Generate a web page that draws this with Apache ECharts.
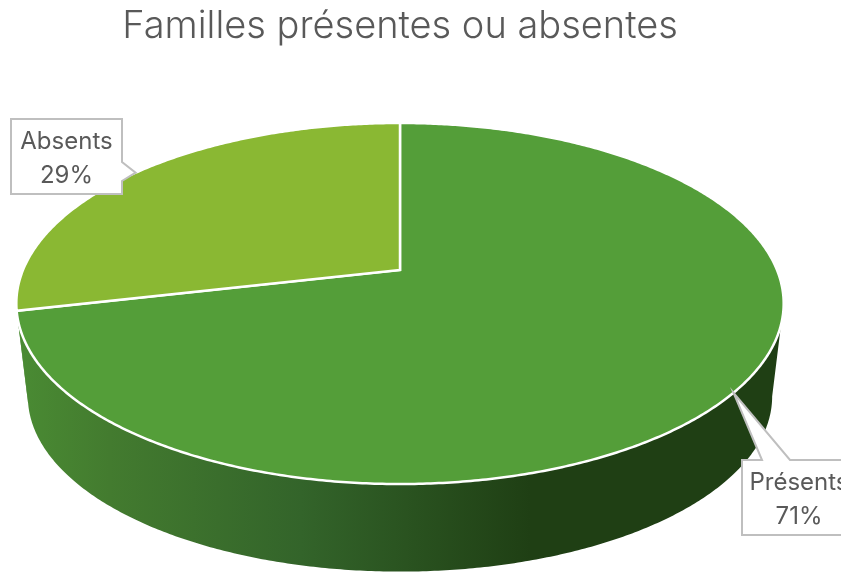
<!DOCTYPE html>
<html>
<head>
<meta charset="utf-8">
<style>
  html, body { margin: 0; padding: 0; background: #fff; overflow: hidden; }
  #chart { width: 841px; height: 572px; }
</style>
<script src="https://cdn.jsdelivr.net/npm/echarts@6/dist/echarts.min.js"></script>
</head>
<body>
<div id="chart"></div>
<script>
// data
const categories = ['Présents', 'Absents'];
const values = [71.4, 28.6];
const titleText = 'Familles présentes ou absentes';

// colours
const topColors = ['#549E39', '#8AB833'];
const textColor = '#595959';
const boxColor = '#BFBFBF';
const sideStops = [
  { offset: 0, color: '#4A8B33' },
  { offset: 0.12, color: '#437B2F' },
  { offset: 0.37, color: '#33642A' },
  { offset: 0.67, color: '#1F3F14' },
  { offset: 1, color: '#1F3F14' }
];

// tilted disc: a unit circle seen in perspective
const cx = 400, cy = 270;
const spanX = 377, spanY = 124.2, persp = -0.1856;
// the lower rim is the upper rim shrunk and moved down
const rimScale = 0.97, rimTop = 303, rimBottom = 396;
// part of the rim facing the viewer (degrees clockwise from the top)
const frontFrom = 100.7, frontTo = 259.3;

// callout boxes, the pointer base sits on one edge
const labelBoxes = [
  { x: 742, y: 460, w: 114, h: 75, edge: 'top', from: 762, to: 790 },
  { x: 11, y: 119, w: 111, h: 75, edge: 'right', from: 162, to: 181 }
];

const total = values.reduce((a, b) => a + b, 0);

function startAngle(i) {
  let sum = 0;
  for (let k = 0; k < i; k++) sum += values[k];
  return sum / total * 360;
}

function project(deg) {
  const t = deg * Math.PI / 180;
  const u = Math.sin(t), v = -Math.cos(t);
  const w = 1 + persp * v;
  return [cx + spanX * u / w, (cy + spanY * v) / w];
}

function lower(p) {
  return [cx + rimScale * (p[0] - cx), rimBottom + rimScale * (p[1] - rimTop)];
}

function arc(from, to) {
  const pts = [];
  const n = Math.max(2, Math.ceil((to - from) * 2));
  for (let i = 0; i <= n; i++) pts.push(project(from + (to - from) * i / n));
  return pts;
}

function renderSide(params, api) {
  const i = api.value(1);
  const from = Math.max(startAngle(i), frontFrom);
  const to = Math.min(startAngle(i) + api.value(0) / total * 360, frontTo);
  if (to <= from) return { type: 'group', children: [] };
  const upper = arc(from, to);
  return {
    type: 'polygon',
    shape: { points: upper.concat(upper.map(lower).reverse()) },
    style: { fill: new echarts.graphic.LinearGradient(18, 0, 783, 0, sideStops, true) }
  };
}

function renderTop(params, api) {
  const i = api.value(1);
  const from = startAngle(i);
  const to = from + api.value(0) / total * 360;
  return {
    type: 'polygon',
    shape: { points: [[cx, cy]].concat(arc(from, to)) },
    style: { fill: topColors[i], stroke: '#fff', lineWidth: 2.5, lineJoin: 'miter' }
  };
}

function renderLabel(params, api) {
  const i = api.value(1);
  const b = labelBoxes[i];
  const tip = project(startAngle(i) + api.value(0) / total * 180);
  const r = b.x + b.w, btm = b.y + b.h;
  let pts;
  if (b.edge === 'top') {
    pts = [[b.x, b.y], [b.from, b.y], tip, [b.to, b.y], [r, b.y], [r, btm], [b.x, btm]];
  } else {
    pts = [[b.x, b.y], [r, b.y], [r, b.from], tip, [r, b.to], [r, btm], [b.x, btm]];
  }
  const label = (y, text) => ({
    type: 'text',
    style: {
      x: b.x + b.w / 2, y: y, text: text,
      fill: textColor, font: '400 24px Inter',
      textAlign: 'center', textVerticalAlign: 'middle'
    }
  });
  return {
    type: 'group',
    children: [
      { type: 'polygon', shape: { points: pts }, style: { fill: '#fff', stroke: boxColor, lineWidth: 2 } },
      label(b.y + 23, categories[i]),
      label(b.y + 57, Math.round(api.value(0) / total * 100) + '%')
    ]
  };
}

const chart = echarts.init(document.getElementById('chart'));
const rows = values.map((v, i) => [v, i]);

chart.setOption({
  animation: false,
  title: {
    text: titleText,
    left: cx - 5,
    top: 3,
    textAlign: 'center',
    textStyle: { color: textColor, fontFamily: 'Inter', fontWeight: 300, fontSize: 38 }
  },
  series: [
    { type: 'custom', name: 'side', coordinateSystem: 'none', silent: true, data: rows, renderItem: renderSide },
    { type: 'custom', name: 'top', coordinateSystem: 'none', silent: true, data: rows, renderItem: renderTop },
    { type: 'custom', name: 'labels', coordinateSystem: 'none', silent: true, data: rows, renderItem: renderLabel }
  ]
});
</script>
</body>
</html>
